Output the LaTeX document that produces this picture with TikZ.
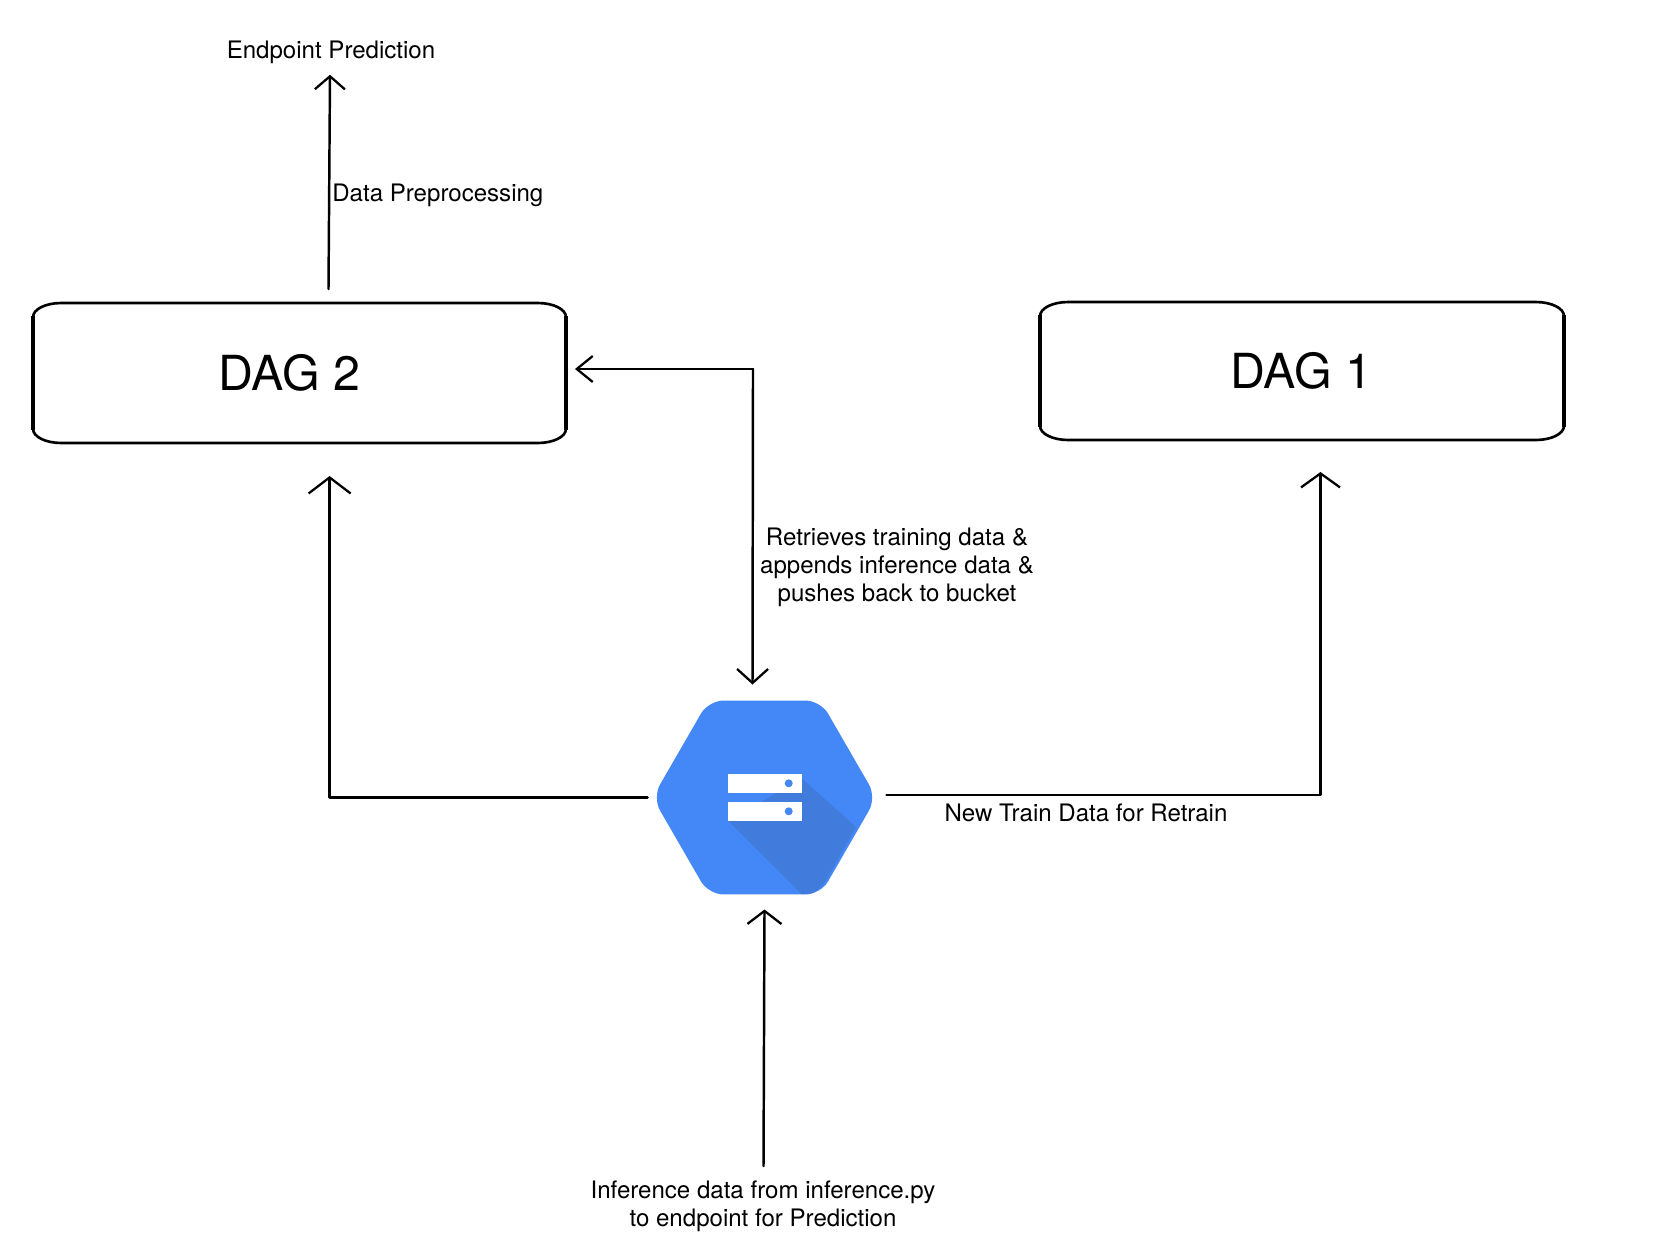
\documentclass[tikz,border=0pt]{standalone}
\usepackage{fontspec}
\setmainfont{TeX Gyre Heros}
\usetikzlibrary{arrows.meta, shapes.geometric}
\definecolor{bucketblue}{HTML}{4487F6}
\definecolor{bucketshade}{HTML}{417CDD}

\newcommand{\dagoutline}[1]{%
    \draw[line width=1.5pt] ([xshift=0.56cm]#1.north west) -- ([xshift=-0.56cm]#1.north east)
        arc[start angle=90, end angle=0, x radius=0.56cm, y radius=0.28cm]
        -- ([yshift=0.28cm]#1.south east)
        arc[start angle=0, end angle=-90, x radius=0.56cm, y radius=0.28cm]
        -- ([xshift=0.56cm]#1.south west)
        arc[start angle=-90, end angle=-180, x radius=0.56cm, y radius=0.28cm]
        -- ([yshift=-0.28cm]#1.north west)
        arc[start angle=180, end angle=90, x radius=0.56cm, y radius=0.28cm] -- cycle;
    \draw[line width=2.7pt] ([yshift=-0.26cm]#1.north west) -- ([yshift=0.26cm]#1.south west);
    \draw[line width=2.7pt] ([yshift=-0.26cm]#1.north east) -- ([yshift=0.26cm]#1.south east);
}

\tikzset{
    flow/.style={line width=1.4pt, line cap=round, line join=round},
    barb/.style 2 args={-{Straight Barb[width=#1*0.02cm, length=#2*0.02cm, line width=1.3pt]}},
    dagbox/.style={inner sep=0pt, outer sep=0pt},
    dagtext/.style={font=\fontsize{27.5}{30}\selectfont, inner sep=0pt},
    lbl/.style={font=\fontsize{13.7}{16}\selectfont, align=center, inner sep=0pt},
}

\begin{document}
\begin{tikzpicture}[x=0.02cm, y=-0.02cm]

    \useasboundingbox (0,0) rectangle (1676,1248);

    % the two DAG boxes:

    \node[dagbox, minimum width=10.66cm, minimum height=2.8cm] (dag2) at (299.5,373) {};
    \node[dagtext] (dag2text) at (289.5,373) {DAG 2};
    \dagoutline{dag2}

    \node[dagbox, minimum width=10.48cm, minimum height=2.76cm] (dag1) at (1302,371) {};
    \node[dagtext] (dag1text) at (1301.5,371) {DAG 1};
    \dagoutline{dag1}

    % the bucket icon:

    \node[regular polygon, regular polygon sides=6, fill=bucketblue, rounded corners=0.3cm,
          minimum size=4.48cm, inner sep=0pt, outer sep=0pt] (bucket) at (764.5,797.5) {};
    \fill[bucketshade] (801.7,778.3) -- (856,827) -- (828,877)
        .. controls (821,889) and (815,894) .. (805,894) -- (801.7,894) -- (728.3,821) -- cycle;
    \fill[white] (727.7,774) rectangle (801.7,792.7);
    \fill[white] (727.7,802) rectangle (801.7,821);
    \fill[bucketblue] (788.7,783.3) circle[radius=4];
    \fill[bucketblue] (788.7,811.3) circle[radius=4];

    % labels:

    \node[lbl] (endpoint) at (331,52) {Endpoint Prediction};
    \node[lbl, anchor=west] (preproc) at (332,195) {Data Preprocessing};
    \node[lbl] (retrieves) at (897,567) {Retrieves training data \&\\appends inference data \&\\pushes back to bucket};
    \node[lbl] (newtrain) at (1086,813) {New Train Data for Retrain};
    \node[lbl] (inference) at (763,1206.5) {Inference data from inference.py\\to endpoint for Prediction};

    % free ends of the connectors:

    \coordinate (dag2in) at (329.6,476);
    \coordinate (dag1in) at (1320.5,472);
    \coordinate (midcorner) at (753,369);
    \coordinate (inferout) at (763.5,1166);

    \draw[flow, barb={30}{13}] ([shift={(29,-14)}]dag2.north) -- ([shift={(-1,11)}]endpoint.south);
    \draw[flow, barb={42}{16}, shorten <=0.1cm] (bucket.west) -| (dag2in);
    \draw[flow, barb={39}{14}, shorten <=0.2cm] ([shift={(0,-2.5)}]bucket.east) -| (dag1in);
    \draw[flow, barb={26}{16}] (midcorner) -- ([shift={(9,-4)}]dag2.east);
    \draw[flow, barb={31}{14}] (midcorner) -- ([shift={(-12,-16)}]bucket.north);
    \draw[flow, barb={34}{13}] (inferout) -- ([shift={(0,15)}]bucket.south);
%
\end{tikzpicture}
\end{document}
